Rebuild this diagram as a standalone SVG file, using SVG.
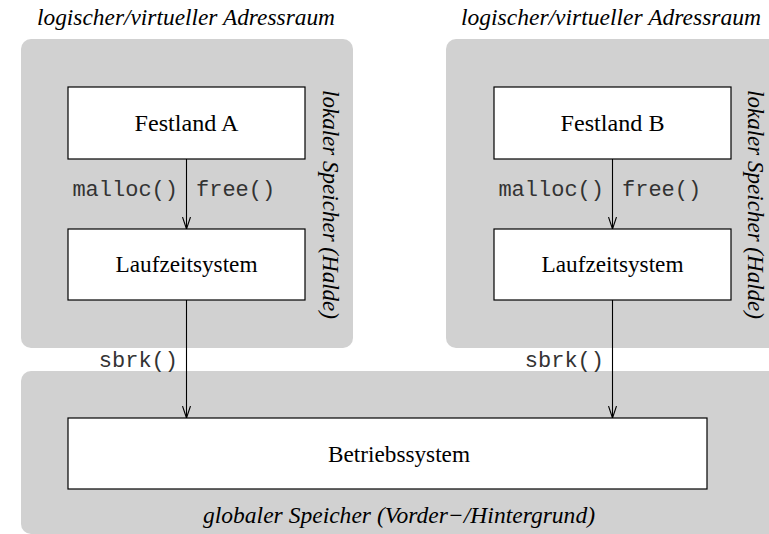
<svg xmlns="http://www.w3.org/2000/svg" width="769" height="534" viewBox="0 0 769 534">
<style>
.panel{fill:#d1d1d1;stroke:none}
.box{fill:#fff;stroke:#000;stroke-width:1.2}
.lbl{font-family:'Liberation Serif','Times New Roman',Times,'Nimbus Roman','DejaVu Serif',serif;font-size:23px;fill:#000}
.it{font-family:'Liberation Serif','Times New Roman',Times,'Nimbus Roman','DejaVu Serif',serif;font-size:23px;font-style:italic;fill:#000}
.mono{font-family:'Liberation Mono','Courier New',Courier,'Nimbus Mono PS',monospace;font-size:22px;fill:#333}
.edge{stroke:#000;stroke-width:1.1;fill:none;marker-end:url(#arr)}
</style>
<defs>
<marker id="arr" viewBox="0 0 12 10" refX="12" refY="5" markerWidth="12" markerHeight="10" markerUnits="userSpaceOnUse" orient="auto">
<path d="M0,1 L12,5 L0,9" fill="none" stroke="#000" stroke-width="1.1"/>
</marker>
</defs>
<rect width="769" height="534" fill="#fff"/>
<g id="panels">
<rect class="panel" x="21" y="39" width="332" height="309" rx="10"/>
<rect class="panel" x="446" y="39" width="340" height="309" rx="10"/>
<rect class="panel" x="21" y="371" width="770" height="163" rx="10"/>
<text class="it" font-family="Liberation Serif, serif" x="186" y="25" text-anchor="middle" textLength="298" lengthAdjust="spacingAndGlyphs">logischer/virtueller Adressraum</text>
<text class="it" font-family="Liberation Serif, serif" x="611" y="25" text-anchor="middle" textLength="300" lengthAdjust="spacingAndGlyphs">logischer/virtueller Adressraum</text>
<text class="it" font-family="Liberation Serif, serif" transform="translate(323,204.5) rotate(90)" text-anchor="middle" textLength="229" lengthAdjust="spacingAndGlyphs">lokaler Speicher (Halde)</text>
<text class="it" font-family="Liberation Serif, serif" transform="translate(748,204.5) rotate(90)" text-anchor="middle" textLength="229" lengthAdjust="spacingAndGlyphs">lokaler Speicher (Halde)</text>
<text class="it" font-family="Liberation Serif, serif" x="399" y="523" text-anchor="middle" textLength="392" lengthAdjust="spacingAndGlyphs">globaler Speicher (Vorder−/Hintergrund)</text>
</g>
<g id="connectors">
<line class="edge" x1="186.5" y1="159" x2="186.5" y2="229"/>
<line class="edge" x1="186.5" y1="300" x2="186.5" y2="418"/>
<line class="edge" x1="612.5" y1="159" x2="612.5" y2="229"/>
<line class="edge" x1="612.5" y1="300" x2="612.5" y2="418"/>
<text class="mono" font-family="Liberation Mono, monospace" x="178" y="196" text-anchor="end">malloc()</text>
<text class="mono" font-family="Liberation Mono, monospace" x="196" y="196">free()</text>
<text class="mono" font-family="Liberation Mono, monospace" x="178" y="367" text-anchor="end">sbrk()</text>
<text class="mono" font-family="Liberation Mono, monospace" x="604" y="196" text-anchor="end">malloc()</text>
<text class="mono" font-family="Liberation Mono, monospace" x="622" y="196">free()</text>
<text class="mono" font-family="Liberation Mono, monospace" x="604" y="367" text-anchor="end">sbrk()</text>
</g>
<g id="festlandA">
<rect class="box" x="68" y="87" width="237" height="72"/>
<text class="lbl" font-family="Liberation Serif, serif" x="186.5" y="131" text-anchor="middle" textLength="104" lengthAdjust="spacingAndGlyphs">Festland A</text>
</g>
<g id="laufzeitA">
<rect class="box" x="68" y="229" width="237" height="71"/>
<text class="lbl" font-family="Liberation Serif, serif" x="186.5" y="272" text-anchor="middle" textLength="142" lengthAdjust="spacingAndGlyphs">Laufzeitsystem</text>
</g>
<g id="festlandB">
<rect class="box" x="494" y="87" width="237" height="72"/>
<text class="lbl" font-family="Liberation Serif, serif" x="612.5" y="131" text-anchor="middle" textLength="104" lengthAdjust="spacingAndGlyphs">Festland B</text>
</g>
<g id="laufzeitB">
<rect class="box" x="494" y="229" width="237" height="71"/>
<text class="lbl" font-family="Liberation Serif, serif" x="612.5" y="272" text-anchor="middle" textLength="142" lengthAdjust="spacingAndGlyphs">Laufzeitsystem</text>
</g>
<g id="betriebssystem">
<rect class="box" x="68" y="418" width="639" height="71"/>
<text class="lbl" font-family="Liberation Serif, serif" x="399" y="462" text-anchor="middle" textLength="142" lengthAdjust="spacingAndGlyphs">Betriebssystem</text>
</g>
</svg>
